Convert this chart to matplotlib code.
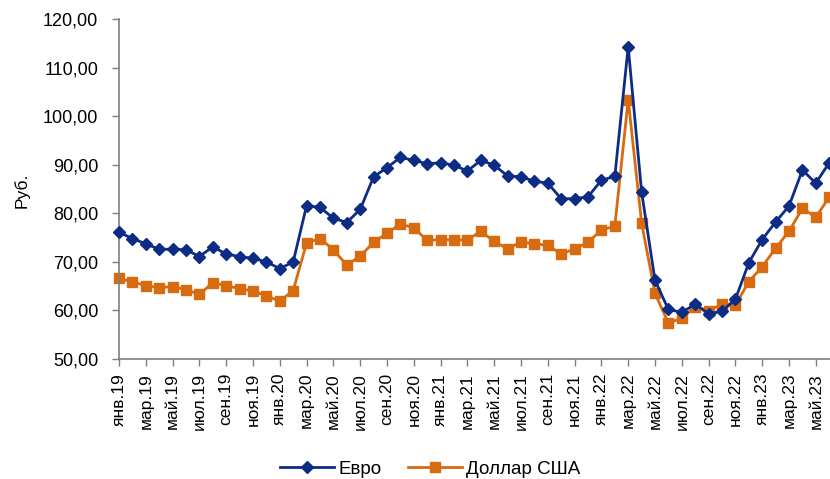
import matplotlib.pyplot as plt
from matplotlib.ticker import FuncFormatter

plt.rcParams['font.family'] = ['Liberation Sans', 'DejaVu Sans']

# monthly, Jan 2019 .. Jun 2023
months = ['янв', 'фев', 'мар', 'апр', 'май', 'июн',
          'июл', 'авг', 'сен', 'окт', 'ноя', 'дек']
years = ['19', '20', '21', '22', '23']
labels = [m + '.' + y for y in years for m in months][:54]

euro = [76.1, 74.8, 73.7, 72.6, 72.6, 72.5, 71.1, 73.1, 71.6, 71.1, 70.7, 70.0,
        68.6, 70.0, 81.6, 81.2, 79.0, 78.1, 80.8, 87.5, 89.4, 91.5, 90.9, 90.2,
        90.4, 89.9, 88.7, 90.9, 89.9, 87.7, 87.5, 86.6, 86.2, 83.0, 83.0, 83.4,
        86.8, 87.6, 114.3, 84.4, 66.2, 60.2, 59.6, 61.3, 59.3, 59.8, 62.3, 69.8,
        74.6, 78.2, 81.5, 88.9, 86.2, 90.4]
usd = [66.6, 65.9, 65.1, 64.7, 64.9, 64.3, 63.3, 65.7, 65.1, 64.5, 64.0, 63.0,
       61.9, 64.1, 73.9, 74.8, 72.5, 69.3, 71.2, 74.0, 75.9, 77.8, 77.0, 74.4,
       74.6, 74.5, 74.5, 76.3, 74.2, 72.7, 74.1, 73.7, 73.4, 71.6, 72.7, 74.0,
       76.6, 77.3, 103.4, 78.0, 63.5, 57.4, 58.4, 60.8, 59.9, 61.3, 61.1, 65.9,
       69.0, 72.8, 76.3, 81.0, 79.2, 83.3]

blue = '#0c2c86'
orange = '#d86a10'
axis_col = '#7f7f7f'

W, H = 830, 479
fig = plt.figure(figsize=(W / 100, H / 100), dpi=100)
step = 13.40
ax = fig.add_axes([119 / W, (H - 359) / H, 55 * step / W, 340 / H])

x = list(range(len(labels)))
ax.plot(x, euro, color=blue, lw=2.0, marker='D', ms=6.5, label='Евро', clip_on=False, zorder=3)
ax.plot(x, usd, color=orange, lw=2.0, marker='s', ms=7.5, label='Доллар США', clip_on=False, zorder=2)

ax.set_xlim(0, 55)
ax.set_ylim(50, 120)
ax.set_yticks(range(50, 121, 10))
ax.yaxis.set_major_formatter(FuncFormatter(lambda v, p: f'{v:.2f}'.replace('.', ',')))
ax.set_xticks(x[::2])
ax.set_xticklabels(labels[::2], rotation=90)
ax.tick_params(axis='both', color=axis_col, length=5, width=1)
ax.tick_params(axis='y', labelsize=13, pad=10)
ax.tick_params(axis='x', labelsize=12.5, pad=5)
for s in ['top', 'right']:
    ax.spines[s].set_visible(False)
for s in ['left', 'bottom']:
    ax.spines[s].set_color(axis_col)
    ax.spines[s].set_linewidth(1.2)

fig.text(22 / W, 1 - 190 / H, 'Руб.', rotation=90, ha='center', va='center', fontsize=12.5)

fig.legend(loc='center', bbox_to_anchor=(430 / W, 1 - 469 / H), ncol=2, frameon=False,
           fontsize=13.5, handlelength=2.9, columnspacing=1.4, handletextpad=0.2,
           borderpad=0)

fig.savefig('out.png', dpi=100)
